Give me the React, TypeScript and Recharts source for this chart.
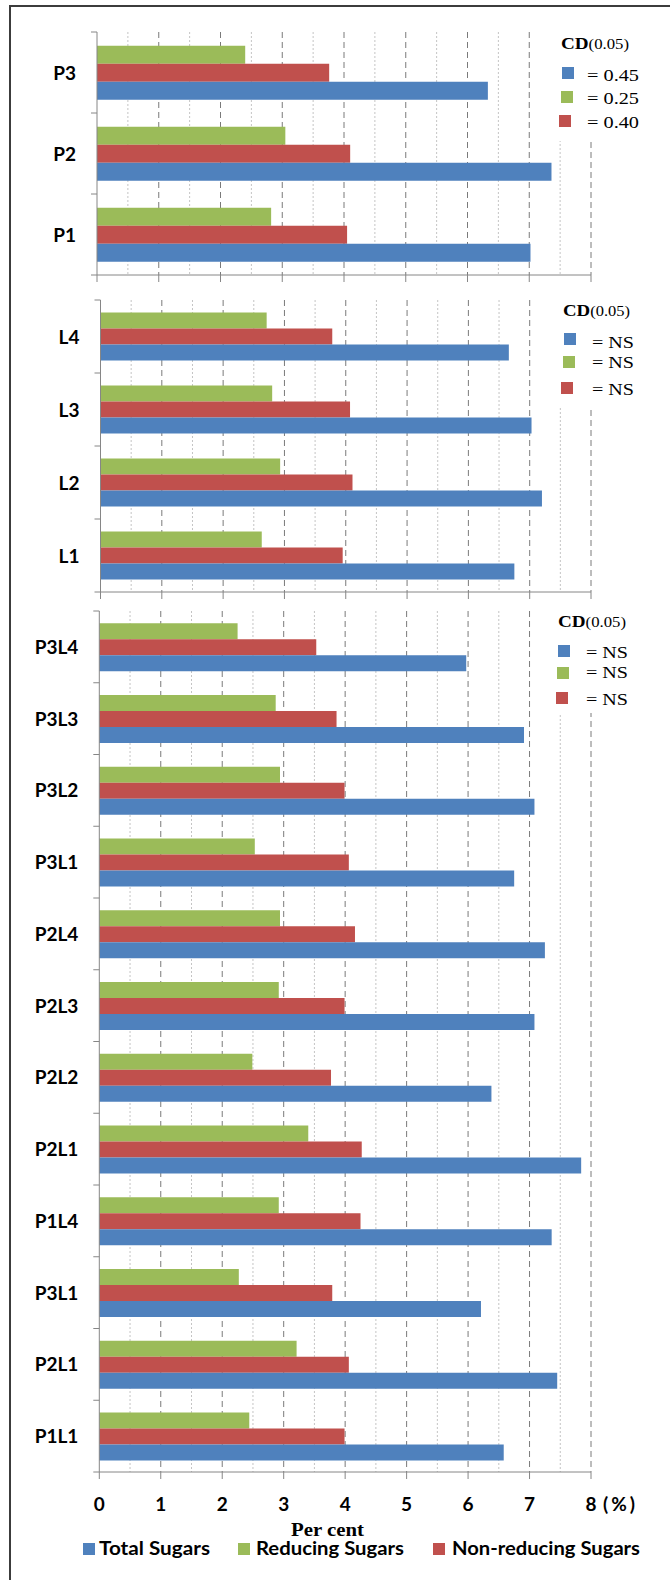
import React from "react";
import { BarChart, Bar, XAxis, YAxis, CartesianGrid } from "recharts";

// series, in the order the legend lists them
const seriesNames = ["Total Sugars", "Reducing Sugars", "Non-reducing Sugars"];
const seriesColors = ["#4F81BD", "#9BBB59", "#C0504D"];

// panel 1 : P levels
const pLabels = ["P3", "P2", "P1"];
const pTotal = [6.33, 7.36, 7.02];
const pReducing = [2.4, 3.05, 2.82];
const pNonReducing = [3.76, 4.1, 4.05];
const pCd = ["= 0.45", "= 0.25", "= 0.40"];

// panel 2 : L levels
const lLabels = ["L4", "L3", "L2", "L1"];
const lTotal = [6.66, 7.03, 7.2, 6.75];
const lReducing = [2.71, 2.8, 2.93, 2.63];
const lNonReducing = [3.78, 4.07, 4.11, 3.95];
const lCd = ["= NS", "= NS", "= NS"];

// panel 3 : P x L
const plLabels = ["P3L4", "P3L3", "P3L2", "P3L1", "P2L4", "P2L3", "P2L2", "P2L1", "P1L4", "P3L1", "P2L1", "P1L1"];
const plTotal = [5.97, 6.91, 7.08, 6.75, 7.25, 7.08, 6.38, 7.84, 7.36, 6.21, 7.45, 6.58];
const plReducing = [2.25, 2.87, 2.94, 2.53, 2.94, 2.92, 2.49, 3.4, 2.92, 2.27, 3.21, 2.44];
const plNonReducing = [3.53, 3.86, 3.99, 4.06, 4.16, 3.99, 3.77, 4.27, 4.25, 3.79, 4.06, 3.99];
const plCd = ["= NS", "= NS", "= NS"];

const xTicks = [0, 1, 2, 3, 4, 5, 6, 7, 8];
const majorGrid = [1, 2, 3, 4, 5, 6, 7, 8];
const minorGrid = [0.5, 1.5, 2.5, 3.5, 4.5, 5.5, 6.5, 7.5];

const AXIS = "#868686";
const SANS = "Lato, 'Open Sans', sans-serif";
const SERIF = "'Liberation Serif', 'DejaVu Serif', serif";

type Row = { id: string; name: string; total: number; reducing: number; nonReducing: number };

function buildRows(labels: string[], total: number[], reducing: number[], nonReducing: number[]): Row[] {
  return labels.map((name, i) => ({
    id: String(i),
    name,
    total: total[i],
    reducing: reducing[i],
    nonReducing: nonReducing[i],
  }));
}

const panels = [
  { rows: buildRows(pLabels, pTotal, pReducing, pNonReducing), top: 32, plotHeight: 243, axisX: 97, labels: false },
  { rows: buildRows(lLabels, lTotal, lReducing, lNonReducing), top: 300, plotHeight: 292, axisX: 100.5, labels: false },
  { rows: buildRows(plLabels, plTotal, plReducing, plNonReducing), top: 611, plotHeight: 861, axisX: 99.3, labels: true },
];

function YTick(props: any) {
  const { x, y, payload, index, rows, bandHalf } = props;
  const axisX = x + 21;
  const half = payload && payload.offset ? payload.offset : bandHalf;
  const last = index === rows.length - 1;
  return (
    <g>
      <line x1={axisX - 6} x2={axisX} y1={y - half} y2={y - half} stroke={AXIS} />
      {last && <line x1={axisX - 6} x2={axisX} y1={y + half} y2={y + half} stroke={AXIS} />}
      <text x={x} y={y + 7} textAnchor="end" fontFamily={SANS} fontWeight={700} fontSize={19} fill="#000">
        {rows[Number(payload.value)]?.name}
      </text>
    </g>
  );
}

function XTick(props: any) {
  const { x, y, payload } = props;
  return (
    <g>
      <text x={x} y={y + 13} textAnchor="middle" fontFamily={SANS} fontWeight={700} fontSize={19} fill="#000">
        {payload.value}
      </text>
      {payload.value === 8 && (
        <text x={x + 12} y={y + 13} fontFamily={SANS} fontWeight={700} fontSize={19} fill="#000" textLength={32}>
          (%)
        </text>
      )}
    </g>
  );
}

function Panel({ rows, top, plotHeight, axisX, labels }: { rows: Row[]; top: number; plotHeight: number; axisX: number; labels: boolean }) {
  const pad = 6;
  const axisH = labels ? 45 : 10;
  const bandHalf = plotHeight / rows.length / 2;
  return (
    <div style={{ position: "absolute", left: 0, top: top - pad }}>
      <BarChart
        width={670}
        height={pad + plotHeight + axisH}
        data={rows}
        layout="vertical"
        margin={{ top: pad, right: 79, bottom: 0, left: 0 }}
        barCategoryGap="17%"
        barGap={0}
      >
        <CartesianGrid horizontal={false} verticalValues={minorGrid} stroke="#c4c4c4" strokeDasharray="2 2" />
        <CartesianGrid horizontal={false} verticalValues={majorGrid} stroke="#7a7a7a" strokeDasharray="6 4" />
        <XAxis
          type="number"
          domain={[0, 8]}
          ticks={xTicks}
          interval={0}
          height={axisH}
          axisLine={{ stroke: AXIS }}
          tickLine={{ stroke: AXIS }}
          tickSize={7}
          tickMargin={19}
          tick={labels ? (p: any) => <XTick {...p} /> : () => <g />}
        />
        <YAxis
          type="category"
          dataKey="id"
          width={axisX}
          interval={0}
          axisLine={{ stroke: AXIS }}
          tickLine={false}
          tickSize={0}
          tickMargin={21}
          tick={(p: any) => <YTick {...p} rows={rows} bandHalf={bandHalf} />}
        />
        <Bar dataKey="reducing" fill={seriesColors[1]} isAnimationActive={false} />
        <Bar dataKey="nonReducing" fill={seriesColors[2]} isAnimationActive={false} />
        <Bar dataKey="total" fill={seriesColors[0]} isAnimationActive={false} />
      </BarChart>
    </div>
  );
}

// legend boxes for the CD values, one per panel
const cdBoxes = [
  { values: pCd, boxTop: 30, boxBottom: 141, titleX: 561, titleY: 49, titleW: 68, sqX: [562, 561, 559], sqY: [67, 91, 115], textX: 587, textY: [80.5, 103.5, 127.5], textW: 52 },
  { values: lCd, boxTop: 298, boxBottom: 406, titleX: 563, titleY: 316, titleW: 67, sqX: [564, 563, 561], sqY: [333, 356, 382], textX: 592, textY: [348, 368, 395], textW: 42 },
  { values: plCd, boxTop: 609, boxBottom: 713, titleX: 558, titleY: 627, titleW: 68, sqX: [558, 557, 556], sqY: [645, 667, 692], textX: 586, textY: [658, 678, 705], textW: 42 },
];
const cdColors = [seriesColors[0], seriesColors[1], seriesColors[2]];

export default function App() {
  return (
    <div style={{ position: "absolute", left: 0, top: 0, width: 670, height: 1580, overflow: "hidden", background: "#fff" }}>
      <div style={{ position: "absolute", left: 9, top: 5, width: 700, height: 1640, borderLeft: "2px solid #3c3c3c", borderTop: "2px solid #3c3c3c" }} />
      {panels.map((p, i) => (
        <Panel key={i} {...p} />
      ))}
      <svg width={670} height={1580} style={{ position: "absolute", left: 0, top: 0, pointerEvents: "none" }}>
        {cdBoxes.map((b, i) => (
          <g key={i}>
            <rect x={540} y={b.boxTop} width={130} height={b.boxBottom - b.boxTop} fill="#fff" />
            <text x={b.titleX} y={b.titleY} fontFamily={SERIF} fill="#000" textLength={b.titleW} lengthAdjust="spacingAndGlyphs">
              <tspan fontWeight={700} fontSize={16}>CD</tspan>
              <tspan fontSize={14}>(0.05)</tspan>
            </text>
            {b.values.map((v, j) => (
              <g key={j}>
                <rect x={b.sqX[j]} y={b.sqY[j]} width={12} height={12} fill={cdColors[j]} />
                <text x={b.textX} y={b.textY[j]} fontFamily={SERIF} fontSize={16} fill="#000" textLength={b.textW} lengthAdjust="spacingAndGlyphs">
                  {v}
                </text>
              </g>
            ))}
          </g>
        ))}
        <text x={291} y={1536} fontFamily={SERIF} fontWeight={700} fontSize={19} fill="#000" textLength={73} lengthAdjust="spacingAndGlyphs">
          Per cent
        </text>
        {seriesNames.map((name, i) => {
          const sq = [83, 238, 433][i];
          const tx = [99, 256, 452][i];
          const tw = [111, 148, 188][i];
          return (
            <g key={name}>
              <rect x={sq} y={1543} width={12} height={12} fill={seriesColors[i]} />
              <text x={tx} y={1555} fontFamily={SANS} fontWeight={700} fontSize={18.5} fill="#000" textLength={tw} lengthAdjust="spacingAndGlyphs">
                {name}
              </text>
            </g>
          );
        })}
      </svg>
    </div>
  );
}
